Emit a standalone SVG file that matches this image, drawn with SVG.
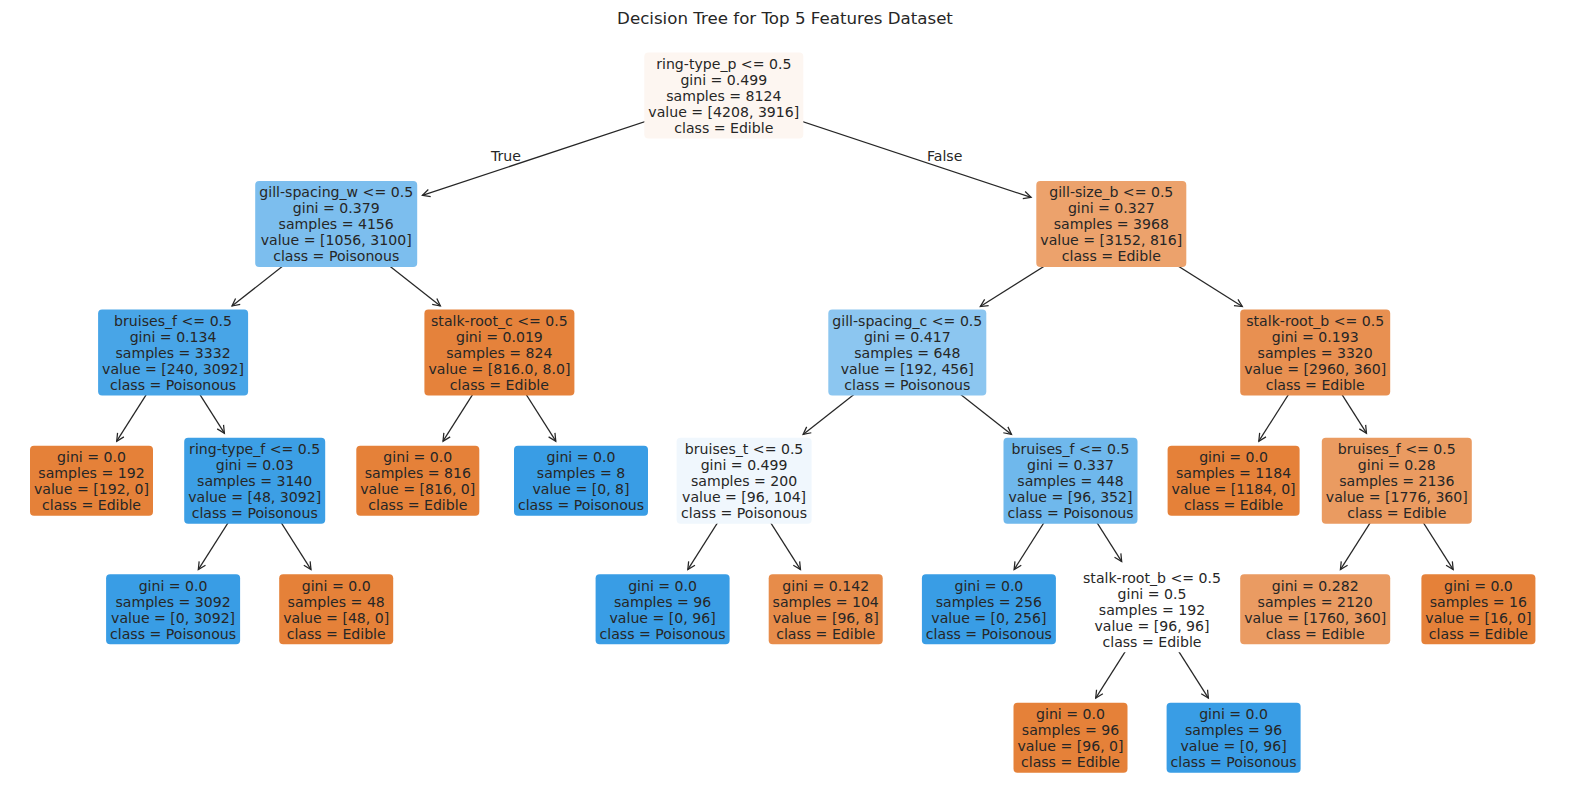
<svg xmlns="http://www.w3.org/2000/svg" width="1570" height="812" viewBox="0 0 1570 812">
<style>
text{font-family:"DejaVu Sans","Liberation Sans",sans-serif;fill:#262626;text-anchor:middle}
.t{font-size:14.1px}
.title{font-size:16.67px}
.edge{stroke:#262626;stroke-width:1.25;fill:none;marker-end:url(#arr)}
.box{stroke:none}
</style>
<defs>
<marker id="arr" markerUnits="userSpaceOnUse" markerWidth="12" markerHeight="12" viewBox="-10 -6 12 12" refX="0" refY="0" orient="auto" overflow="visible">
<path d="M-7.5,-3.75 L0,0 L-7.5,3.75" fill="none" stroke="#262626" stroke-width="1.25"/>
</marker>
</defs>
<rect width="1570" height="812" fill="#ffffff"/>
<text class="title" x="785" y="24">Decision Tree for Top 5 Features Dataset</text>

<g id="connectors">
<line class="edge" x1="723.8" y1="95.5" x2="422.4" y2="195.4"/>
<line class="edge" x1="723.8" y1="95.5" x2="1031.1" y2="197.4"/>
<line class="edge" x1="336.2" y1="223.95" x2="232.0" y2="306.0"/>
<line class="edge" x1="336.2" y1="223.95" x2="440.4" y2="306.0"/>
<line class="edge" x1="1111.3" y1="223.95" x2="980.3" y2="306.5"/>
<line class="edge" x1="1111.3" y1="223.95" x2="1242.3" y2="306.5"/>
<line class="edge" x1="173.1" y1="352.4" x2="116.7" y2="441.2"/>
<line class="edge" x1="173.1" y1="352.4" x2="224.4" y2="433.2"/>
<line class="edge" x1="499.4" y1="352.4" x2="443.0" y2="441.2"/>
<line class="edge" x1="499.4" y1="352.4" x2="555.8" y2="441.2"/>
<line class="edge" x1="907.3" y1="352.4" x2="803.1" y2="434.45"/>
<line class="edge" x1="907.3" y1="352.4" x2="1011.5" y2="434.45"/>
<line class="edge" x1="1315.2" y1="352.4" x2="1258.8" y2="441.2"/>
<line class="edge" x1="1315.2" y1="352.4" x2="1366.5" y2="433.2"/>
<line class="edge" x1="254.7" y1="480.85" x2="198.3" y2="569.66"/>
<line class="edge" x1="254.7" y1="480.85" x2="311.0" y2="569.66"/>
<line class="edge" x1="744.1" y1="480.85" x2="687.8" y2="569.66"/>
<line class="edge" x1="744.1" y1="480.85" x2="800.5" y2="569.66"/>
<line class="edge" x1="1070.5" y1="480.85" x2="1014.1" y2="569.66"/>
<line class="edge" x1="1070.5" y1="480.85" x2="1121.7" y2="561.66"/>
<line class="edge" x1="1396.8" y1="480.85" x2="1340.4" y2="569.66"/>
<line class="edge" x1="1396.8" y1="480.85" x2="1453.2" y2="569.66"/>
<line class="edge" x1="1152" y1="609.3" x2="1095.7" y2="698.1"/>
<line class="edge" x1="1152" y1="609.3" x2="1208.4" y2="698.1"/>
<text class="t" x="506" y="161">True</text>
<text class="t" x="944.7" y="161">False</text>
</g>

<g id="n0">
<rect class="box" x="644.3" y="52.5" width="159" height="86" rx="4" fill="#fdf6f1"/>
<text class="t" x="723.8" y="68.9"><tspan x="723.8">ring-type_p &lt;= 0.5</tspan><tspan x="723.8" dy="16">gini = 0.499</tspan><tspan x="723.8" dy="16">samples = 8124</tspan><tspan x="723.8" dy="16">value = [4208, 3916]</tspan><tspan x="723.8" dy="16">class = Edible</tspan></text>
</g>

<g id="n1">
<rect class="box" x="255.2" y="180.95" width="162" height="86" rx="4" fill="#7cbeee"/>
<text class="t" x="336.2" y="197.35"><tspan x="336.2">gill-spacing_w &lt;= 0.5</tspan><tspan x="336.2" dy="16">gini = 0.379</tspan><tspan x="336.2" dy="16">samples = 4156</tspan><tspan x="336.2" dy="16">value = [1056, 3100]</tspan><tspan x="336.2" dy="16">class = Poisonous</tspan></text>
</g>

<g id="n2">
<rect class="box" x="1036.3" y="180.95" width="150" height="86" rx="4" fill="#eca26c"/>
<text class="t" x="1111.3" y="197.35"><tspan x="1111.3">gill-size_b &lt;= 0.5</tspan><tspan x="1111.3" dy="16">gini = 0.327</tspan><tspan x="1111.3" dy="16">samples = 3968</tspan><tspan x="1111.3" dy="16">value = [3152, 816]</tspan><tspan x="1111.3" dy="16">class = Edible</tspan></text>
</g>

<g id="n3">
<rect class="box" x="98.1" y="309.4" width="150" height="86" rx="4" fill="#48a5e7"/>
<text class="t" x="173.1" y="325.8"><tspan x="173.1">bruises_f &lt;= 0.5</tspan><tspan x="173.1" dy="16">gini = 0.134</tspan><tspan x="173.1" dy="16">samples = 3332</tspan><tspan x="173.1" dy="16">value = [240, 3092]</tspan><tspan x="173.1" dy="16">class = Poisonous</tspan></text>
</g>

<g id="n4">
<rect class="box" x="424.4" y="309.4" width="150" height="86" rx="4" fill="#e5823b"/>
<text class="t" x="499.4" y="325.8"><tspan x="499.4">stalk-root_c &lt;= 0.5</tspan><tspan x="499.4" dy="16">gini = 0.019</tspan><tspan x="499.4" dy="16">samples = 824</tspan><tspan x="499.4" dy="16">value = [816.0, 8.0]</tspan><tspan x="499.4" dy="16">class = Edible</tspan></text>
</g>

<g id="n5">
<rect class="box" x="828.3" y="309.4" width="158" height="86" rx="4" fill="#8cc6f0"/>
<text class="t" x="907.3" y="325.8"><tspan x="907.3">gill-spacing_c &lt;= 0.5</tspan><tspan x="907.3" dy="16">gini = 0.417</tspan><tspan x="907.3" dy="16">samples = 648</tspan><tspan x="907.3" dy="16">value = [192, 456]</tspan><tspan x="907.3" dy="16">class = Poisonous</tspan></text>
</g>

<g id="n6">
<rect class="box" x="1240.2" y="309.4" width="150" height="86" rx="4" fill="#e89051"/>
<text class="t" x="1315.2" y="325.8"><tspan x="1315.2">stalk-root_b &lt;= 0.5</tspan><tspan x="1315.2" dy="16">gini = 0.193</tspan><tspan x="1315.2" dy="16">samples = 3320</tspan><tspan x="1315.2" dy="16">value = [2960, 360]</tspan><tspan x="1315.2" dy="16">class = Edible</tspan></text>
</g>

<g id="n7">
<rect class="box" x="30" y="445.85" width="123" height="70" rx="4" fill="#e58139"/>
<text class="t" x="91.5" y="462.25"><tspan x="91.5">gini = 0.0</tspan><tspan x="91.5" dy="16">samples = 192</tspan><tspan x="91.5" dy="16">value = [192, 0]</tspan><tspan x="91.5" dy="16">class = Edible</tspan></text>
</g>

<g id="n8">
<rect class="box" x="184.2" y="437.85" width="141" height="86" rx="4" fill="#3c9fe5"/>
<text class="t" x="254.7" y="454.25"><tspan x="254.7">ring-type_f &lt;= 0.5</tspan><tspan x="254.7" dy="16">gini = 0.03</tspan><tspan x="254.7" dy="16">samples = 3140</tspan><tspan x="254.7" dy="16">value = [48, 3092]</tspan><tspan x="254.7" dy="16">class = Poisonous</tspan></text>
</g>

<g id="n9">
<rect class="box" x="356.3" y="445.85" width="123" height="70" rx="4" fill="#e58139"/>
<text class="t" x="417.8" y="462.25"><tspan x="417.8">gini = 0.0</tspan><tspan x="417.8" dy="16">samples = 816</tspan><tspan x="417.8" dy="16">value = [816, 0]</tspan><tspan x="417.8" dy="16">class = Edible</tspan></text>
</g>

<g id="n10">
<rect class="box" x="514" y="445.85" width="134" height="70" rx="4" fill="#399de5"/>
<text class="t" x="581" y="462.25"><tspan x="581">gini = 0.0</tspan><tspan x="581" dy="16">samples = 8</tspan><tspan x="581" dy="16">value = [0, 8]</tspan><tspan x="581" dy="16">class = Poisonous</tspan></text>
</g>

<g id="n11">
<rect class="box" x="676.6" y="437.85" width="135" height="86" rx="4" fill="#f0f7fd"/>
<text class="t" x="744.1" y="454.25"><tspan x="744.1">bruises_t &lt;= 0.5</tspan><tspan x="744.1" dy="16">gini = 0.499</tspan><tspan x="744.1" dy="16">samples = 200</tspan><tspan x="744.1" dy="16">value = [96, 104]</tspan><tspan x="744.1" dy="16">class = Poisonous</tspan></text>
</g>

<g id="n12">
<rect class="box" x="1003.5" y="437.85" width="134" height="86" rx="4" fill="#6fb8ec"/>
<text class="t" x="1070.5" y="454.25"><tspan x="1070.5">bruises_f &lt;= 0.5</tspan><tspan x="1070.5" dy="16">gini = 0.337</tspan><tspan x="1070.5" dy="16">samples = 448</tspan><tspan x="1070.5" dy="16">value = [96, 352]</tspan><tspan x="1070.5" dy="16">class = Poisonous</tspan></text>
</g>

<g id="n13">
<rect class="box" x="1167.6" y="445.85" width="132" height="70" rx="4" fill="#e58139"/>
<text class="t" x="1233.6" y="462.25"><tspan x="1233.6">gini = 0.0</tspan><tspan x="1233.6" dy="16">samples = 1184</tspan><tspan x="1233.6" dy="16">value = [1184, 0]</tspan><tspan x="1233.6" dy="16">class = Edible</tspan></text>
</g>

<g id="n14">
<rect class="box" x="1321.8" y="437.85" width="150" height="86" rx="4" fill="#ea9b61"/>
<text class="t" x="1396.8" y="454.25"><tspan x="1396.8">bruises_f &lt;= 0.5</tspan><tspan x="1396.8" dy="16">gini = 0.28</tspan><tspan x="1396.8" dy="16">samples = 2136</tspan><tspan x="1396.8" dy="16">value = [1776, 360]</tspan><tspan x="1396.8" dy="16">class = Edible</tspan></text>
</g>

<g id="n15">
<rect class="box" x="106.1" y="574.3" width="134" height="70" rx="4" fill="#399de5"/>
<text class="t" x="173.1" y="590.7"><tspan x="173.1">gini = 0.0</tspan><tspan x="173.1" dy="16">samples = 3092</tspan><tspan x="173.1" dy="16">value = [0, 3092]</tspan><tspan x="173.1" dy="16">class = Poisonous</tspan></text>
</g>

<g id="n16">
<rect class="box" x="279.2" y="574.3" width="114" height="70" rx="4" fill="#e58139"/>
<text class="t" x="336.2" y="590.7"><tspan x="336.2">gini = 0.0</tspan><tspan x="336.2" dy="16">samples = 48</tspan><tspan x="336.2" dy="16">value = [48, 0]</tspan><tspan x="336.2" dy="16">class = Edible</tspan></text>
</g>

<g id="n17">
<rect class="box" x="595.6" y="574.3" width="134" height="70" rx="4" fill="#399de5"/>
<text class="t" x="662.6" y="590.7"><tspan x="662.6">gini = 0.0</tspan><tspan x="662.6" dy="16">samples = 96</tspan><tspan x="662.6" dy="16">value = [0, 96]</tspan><tspan x="662.6" dy="16">class = Poisonous</tspan></text>
</g>

<g id="n18">
<rect class="box" x="768.7" y="574.3" width="114" height="70" rx="4" fill="#e78c4a"/>
<text class="t" x="825.7" y="590.7"><tspan x="825.7">gini = 0.142</tspan><tspan x="825.7" dy="16">samples = 104</tspan><tspan x="825.7" dy="16">value = [96, 8]</tspan><tspan x="825.7" dy="16">class = Edible</tspan></text>
</g>

<g id="n19">
<rect class="box" x="921.9" y="574.3" width="134" height="70" rx="4" fill="#399de5"/>
<text class="t" x="988.9" y="590.7"><tspan x="988.9">gini = 0.0</tspan><tspan x="988.9" dy="16">samples = 256</tspan><tspan x="988.9" dy="16">value = [0, 256]</tspan><tspan x="988.9" dy="16">class = Poisonous</tspan></text>
</g>

<g id="n20">
<rect class="box" x="1079" y="566.3" width="146" height="86" rx="4" fill="#ffffff"/>
<text class="t" x="1152" y="582.7"><tspan x="1152">stalk-root_b &lt;= 0.5</tspan><tspan x="1152" dy="16">gini = 0.5</tspan><tspan x="1152" dy="16">samples = 192</tspan><tspan x="1152" dy="16">value = [96, 96]</tspan><tspan x="1152" dy="16">class = Edible</tspan></text>
</g>

<g id="n21">
<rect class="box" x="1240.2" y="574.3" width="150" height="70" rx="4" fill="#ea9b62"/>
<text class="t" x="1315.2" y="590.7"><tspan x="1315.2">gini = 0.282</tspan><tspan x="1315.2" dy="16">samples = 2120</tspan><tspan x="1315.2" dy="16">value = [1760, 360]</tspan><tspan x="1315.2" dy="16">class = Edible</tspan></text>
</g>

<g id="n22">
<rect class="box" x="1421.4" y="574.3" width="114" height="70" rx="4" fill="#e58139"/>
<text class="t" x="1478.4" y="590.7"><tspan x="1478.4">gini = 0.0</tspan><tspan x="1478.4" dy="16">samples = 16</tspan><tspan x="1478.4" dy="16">value = [16, 0]</tspan><tspan x="1478.4" dy="16">class = Edible</tspan></text>
</g>

<g id="n23">
<rect class="box" x="1013.5" y="702.75" width="114" height="70" rx="4" fill="#e58139"/>
<text class="t" x="1070.5" y="719.15"><tspan x="1070.5">gini = 0.0</tspan><tspan x="1070.5" dy="16">samples = 96</tspan><tspan x="1070.5" dy="16">value = [96, 0]</tspan><tspan x="1070.5" dy="16">class = Edible</tspan></text>
</g>

<g id="n24">
<rect class="box" x="1166.6" y="702.75" width="134" height="70" rx="4" fill="#399de5"/>
<text class="t" x="1233.6" y="719.15"><tspan x="1233.6">gini = 0.0</tspan><tspan x="1233.6" dy="16">samples = 96</tspan><tspan x="1233.6" dy="16">value = [0, 96]</tspan><tspan x="1233.6" dy="16">class = Poisonous</tspan></text>
</g>
</svg>
